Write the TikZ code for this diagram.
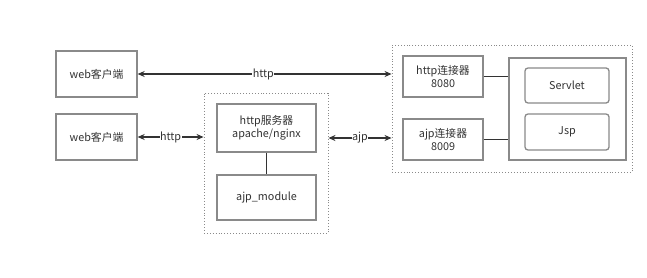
\documentclass[tikz,border=0pt]{standalone}
\usepackage{fontspec}
\setmainfont{Noto Sans CJK SC}
\usetikzlibrary{arrows.meta}
\definecolor{boxgray}{HTML}{8A8A8A}
\definecolor{linedark}{HTML}{333333}
\definecolor{txt}{HTML}{333333}
\tikzset{
  box/.style={draw=boxgray, line width=1.3pt, fill=white, inner sep=0pt, text=txt, align=center, font=\fontsize{10.8}{12.5}\selectfont},
  rbox/.style={box, rounded corners=3pt},
  group/.style={draw=boxgray, line width=0.9pt, dotted, inner sep=0pt},
  conn/.style={draw=linedark, line width=1.1pt},
  biarrow/.style={conn, {Stealth[length=7pt,width=6pt]}-{Stealth[length=7pt,width=6pt]}},
  lbl/.style={fill=white, inner sep=0.5pt, text=txt, font=\fontsize{10.8}{12}\selectfont}
}
\begin{document}
\begin{tikzpicture}[x=1pt,y=-1pt]
\useasboundingbox (0,0) rectangle (647,278);
% groups
\node[group, minimum width=124pt, minimum height=140pt] (g2) at (266,163) {};
\node[group, minimum width=240pt, minimum height=127pt] (g3) at (512,108.5) {};
% web clients
\node[box, minimum width=81pt, minimum height=46pt] (w1) at (96.5,74) {web客户端};
\node[box, minimum width=81pt, minimum height=46pt] (w2) at (96.5,137) {web客户端};
% http server
\node[box, minimum width=99pt, minimum height=48pt] (hs) at (266.5,128) {http服务器\\apache/nginx};
\node[box, minimum width=99pt, minimum height=45pt] (am) at (266.5,197.5) {ajp\_module};
% connectors
\node[box, minimum width=80pt, minimum height=41pt] (hc) at (443,76.5) {http连接器\\8080};
\node[box, minimum width=80pt, minimum height=41pt] (ac) at (443,139.5) {ajp连接器\\8009};
% container
\node[box, minimum width=117pt, minimum height=102pt] (ct) at (567.5,109) {};
\node[rbox, minimum width=84pt, minimum height=35pt] (sv) at (567,85.5) {Servlet};
\node[rbox, minimum width=84pt, minimum height=36pt] (js) at (567,132) {Jsp};
% lines
\draw[conn] (hs) -- (am);
\draw[conn] (hc.east) -- (hc.east -| ct.west);
\draw[conn] (ac.east) -- (ac.east -| ct.west);
% arrows
\draw[biarrow] (w1.east) -- (w1.east -| g3.west) node[lbl, pos=0.495] {http};
\draw[biarrow] (w2.east) -- (w2.east -| g2.west) node[lbl, midway] {http};
\draw[biarrow] (g2.east |- 0,138) -- (g3.west |- 0,138) node[lbl, midway] {ajp};
\end{tikzpicture}
\end{document}
